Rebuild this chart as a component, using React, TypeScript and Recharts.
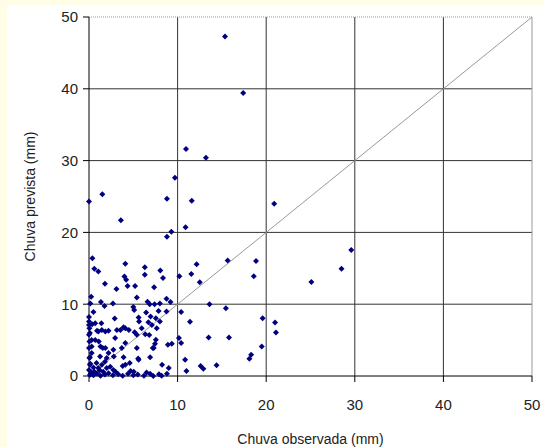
import React from 'react';
import {
  ScatterChart,
  Scatter,
  XAxis,
  YAxis,
  CartesianGrid,
  ReferenceLine,
} from 'recharts';

// Chuva observada (mm)
const observada: number[] = [
  15.35, 17.4, 10.95, 13.2, 9.7, 1.5, 0, 8.8, 11.6, 3.6, 10.9, 9.3, 8.8, 20.9, 18.85, 18.6, 25.1, 28.5, 29.6,
  19.6, 21.0, 21.1, 19.5, 10.2, 11.55, 12.15, 12.5, 15.65, 13.6, 15.45, 10.4, 11.4, 10.15, 10.4, 13.5, 15.8,
  18.3, 18.1, 10.85, 11.0, 12.6, 12.9, 14.4,
  0.38, 0.6, 1.05, 4.1, 6.3, 6.3, 8.05, 8.35, 4.0, 4.2, 1.8, 3.1, 4.35, 5.2, 7.35, 0.25, 0.15, 5.4, 1.35, 1.75,
  2.7, 5.0, 5.1, 6.6, 6.85, 7.4, 8.0, 8.75, 9.2, 6.45, 7.85, 0.5, 0, 2.9, 5.6, 7.55, 8.75,
  5.65, 6.95, 6.7, 7.1, 0.35, 0, 0.7, 1.4, 0.9, 1.45, 1.85, 2.2, 3.15, 3.55, 3.9, 4.1, 4.5, 5.15, 5.4, 5.95,
  6.35, 6.8, 7.65, 8.0, 0.1, 1.05,
  8.9, 9.35, 7.2, 7.45, 7.55, 6.9, 5.55, 4.6, 3.8, 3.9, 2.75, 2.2, 1.55, 1.25, 0.3, 0.3, 0.3, 0.1, 0.15, 0.5,
  0.85, 1.05, 1.6, 2.4, 2.75, 1.8, 0, 0.05, 0, 0.05, 0, 0.05, 0.1, 0, 0.1, 0.7, 1.1, 1.3, 1.85, 2.95, 4.1, 3.7,
  2.8, 2.0, 1.45, 2.0, 4.1, 5.05, 5.6, 5.4, 7.3, 8.25, 9.0,
  0.2, 0.5, 0.9, 1.3, 1.8, 2.2, 2.7, 3.3, 3.8, 4.4, 5.0, 5.5, 6.2, 6.9, 7.25, 7.9, 8.2, 8.8, 0.6, 1.2, 3.0,
  4.7, 6.5, 0.3,
];

// Chuva prevista (mm)
const prevista: number[] = [
  47.3, 39.4, 31.6, 30.4, 27.6, 25.3, 24.3, 24.7, 24.4, 21.7, 20.7, 20.1, 19.4, 24.0, 16.0, 13.9, 13.1, 14.95, 17.55,
  8.05, 7.45, 6.05, 4.1, 13.9, 14.2, 15.55, 13.05, 16.1, 10.0, 9.45, 8.9, 7.55, 5.3, 4.6, 5.35, 5.35,
  2.95, 2.4, 2.25, 0.7, 1.4, 1.0, 1.5,
  16.4, 14.95, 14.55, 15.65, 15.15, 14.1, 14.7, 13.65, 13.85, 13.4, 12.85, 12.1, 12.55, 12.55, 12.35, 11.05, 10.1, 10.95, 10.3, 9.75,
  10.1, 9.6, 9.2, 10.35, 10.0, 10.0, 10.1, 10.75, 10.3, 8.85, 9.05, 8.9, 8.2, 8.0, 8.15, 8.05, 8.97,
  7.6, 8.3, 7.5, 7.1, 7.2, 7.1, 7.35, 7.35, 6.3, 6.4, 6.2, 6.3, 6.4, 6.4, 6.8, 6.65, 6.4, 6.1, 5.75, 6.65,
  5.8, 5.7, 6.65, 7.6, 6.0, 6.2,
  4.35, 4.5, 3.9, 4.5, 5.05, 2.6, 2.45, 1.8, 1.4, 2.6, 3.65, 3.2, 3.9, 2.7, 5.0, 4.1, 3.2, 2.6, 1.7, 1.2,
  1.8, 1.1, 0.6, 1.3, 0.85, 2.0, 7.6, 6.65, 5.75, 4.8, 3.9, 2.5, 1.55, 0.85, 0.15, 5.0, 4.8, 4.1, 3.9, 5.3, 4.6, 3.9,
  2.7, 2.5, 1.55, 1.1, 1.55, 0.6, 2.25, 3.9, 3.9, 1.55, 1.1,
  0.3, 0.1, 0.35, 0.05, 0.2, 0.4, 0.1, 0.25, 0.05, 0.3, 0.1, 0.2, 0.05, 0.3, 0.0, 0.25, 0.05, 0.3, 0.6, 0.8, 0.6,
  0.7, 0.5, 0.5,
];

const axisTicks = [0, 10, 20, 30, 40, 50];
const innerLines = [10, 20, 30, 40];

const points = observada.map((x, i) => ({ x, y: prevista[i] }));

const Diamond = (props: any) => {
  const { cx, cy } = props;
  if (cx == null || cy == null) return null;
  const r = 3;
  return (
    <polygon
      points={`${cx},${cy - r} ${cx + r},${cy} ${cx},${cy + r} ${cx - r},${cy}`}
      fill="#000080"
    />
  );
};

const tickStyle = { fontFamily: 'Liberation Sans, Arial, sans-serif', fontSize: 15, fill: '#222' };

export default function App() {
  return (
    <div style={{ position: 'fixed', left: 0, top: 0, width: 544, height: 447, background: '#fffde6' }}>
      <div style={{ position: 'absolute', left: 7, top: 5, right: 0, bottom: 0, background: '#fff' }} />
      <div style={{ position: 'absolute', left: 0, top: 0 }}>
        <ScatterChart width={544} height={447} margin={{ top: 17, right: 12, left: 0, bottom: 0 }}>
          <CartesianGrid
            stroke="#333"
            horizontalValues={innerLines}
            verticalValues={innerLines}
          />
          <ReferenceLine y={50} stroke="#999" strokeDasharray="1 1" />
          <ReferenceLine x={50} stroke="#999" />
          <XAxis
            type="number"
            dataKey="x"
            domain={[0, 50]}
            ticks={axisTicks}
            height={71}
            tickSize={6}
            tickMargin={17}
            stroke="#000"
            tick={tickStyle}
            label={{
              value: 'Chuva observada (mm)',
              position: 'insideBottom',
              offset: 3,
              style: { fontFamily: 'Liberation Sans, Arial, sans-serif', fontSize: 14, fill: '#222' },
            }}
          />
          <YAxis
            type="number"
            dataKey="y"
            domain={[0, 50]}
            ticks={axisTicks}
            width={89}
            tickSize={6}
            tickMargin={5}
            stroke="#000"
            tick={tickStyle}
            label={{
              value: 'Chuva prevista (mm)',
              angle: -90,
              position: 'insideLeft',
              offset: 30,
              style: { fontFamily: 'Liberation Sans, Arial, sans-serif', fontSize: 14, fill: '#222', textAnchor: 'middle' },
            }}
          />
          <ReferenceLine
            segment={[{ x: 0, y: 0 }, { x: 50, y: 50 }]}
            stroke="#999"
            strokeWidth={1}
          />
          <Scatter data={points} shape={<Diamond />} isAnimationActive={false} />
        </ScatterChart>
      </div>
    </div>
  );
}
